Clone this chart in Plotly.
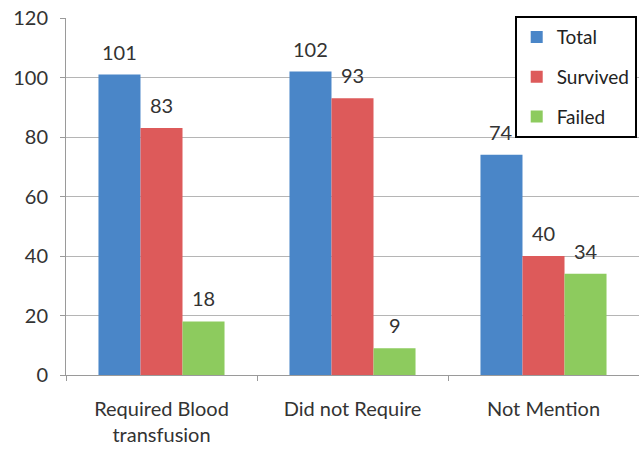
import plotly.graph_objects as go

categories = ["Required Blood<br>transfusion", "Did not Require", "Not Mention"]
total = [101, 102, 74]
survived = [83, 93, 40]
failed = [18, 9, 34]

series = [
    ("Total", total, "#4A86C8"),
    ("Survived", survived, "#DD5A5A"),
    ("Failed", failed, "#8DCB5E"),
]

FONT = "Lato, 'Open Sans', sans-serif"
TEXT = "#333333"

fig = go.Figure()
for i, (name, vals, color) in enumerate(series):
    fig.add_trace(go.Bar(
        name=name, x=categories, y=vals,
        marker=dict(color=color, line=dict(width=0)),
        legendgroup=name,
        offsetgroup=str(i),
    ))

# value labels above each bar
group_w = 1 - 0.34
bar_w = group_w / 3
for i, (name, vals, color) in enumerate(series):
    for j, v in enumerate(vals):
        xpos = j - group_w / 2 + bar_w * (i + 0.5)
        fig.add_annotation(
            x=xpos, y=v, xref="x", yref="y", text=str(v),
            showarrow=False, yanchor="bottom", yshift=9,
            font=dict(family=FONT, size=20, color=TEXT),
        )

fig.update_layout(
    width=639, height=451,
    margin=dict(l=66, r=0, t=18, b=76, autoexpand=False),
    paper_bgcolor="white", plot_bgcolor="white",
    barmode="group", bargap=0.34, bargroupgap=0,
    font=dict(family=FONT, size=20, color=TEXT),
    showlegend=True,
    legend=dict(
        x=0.996, y=1.005, xanchor="right", yanchor="top",
        bgcolor="white", bordercolor="black", borderwidth=2,
        font=dict(family=FONT, size=19, color="#222222"),
        tracegroupgap=12, itemwidth=30,
    ),
    xaxis=dict(
        type="category", range=[-0.5, 2.5],
        showline=True, linecolor="#9a9a9a", linewidth=1,
        ticks="outside", tickson="boundaries", ticklen=5, tickcolor="#9a9a9a",
        showgrid=False, ticklabelstandoff=16,
        tickfont=dict(family=FONT, size=20, color=TEXT),
    ),
    yaxis=dict(
        range=[0, 120], dtick=20,
        showline=True, linecolor="#9a9a9a", linewidth=1,
        showgrid=True, gridcolor="#b5b5b5", gridwidth=1,
        ticks="outside", ticklen=5, tickcolor="#9a9a9a",
        zeroline=False, ticklabelstandoff=8,
        tickfont=dict(family=FONT, size=20, color=TEXT),
    ),
)

fig.write_html("out.html")
